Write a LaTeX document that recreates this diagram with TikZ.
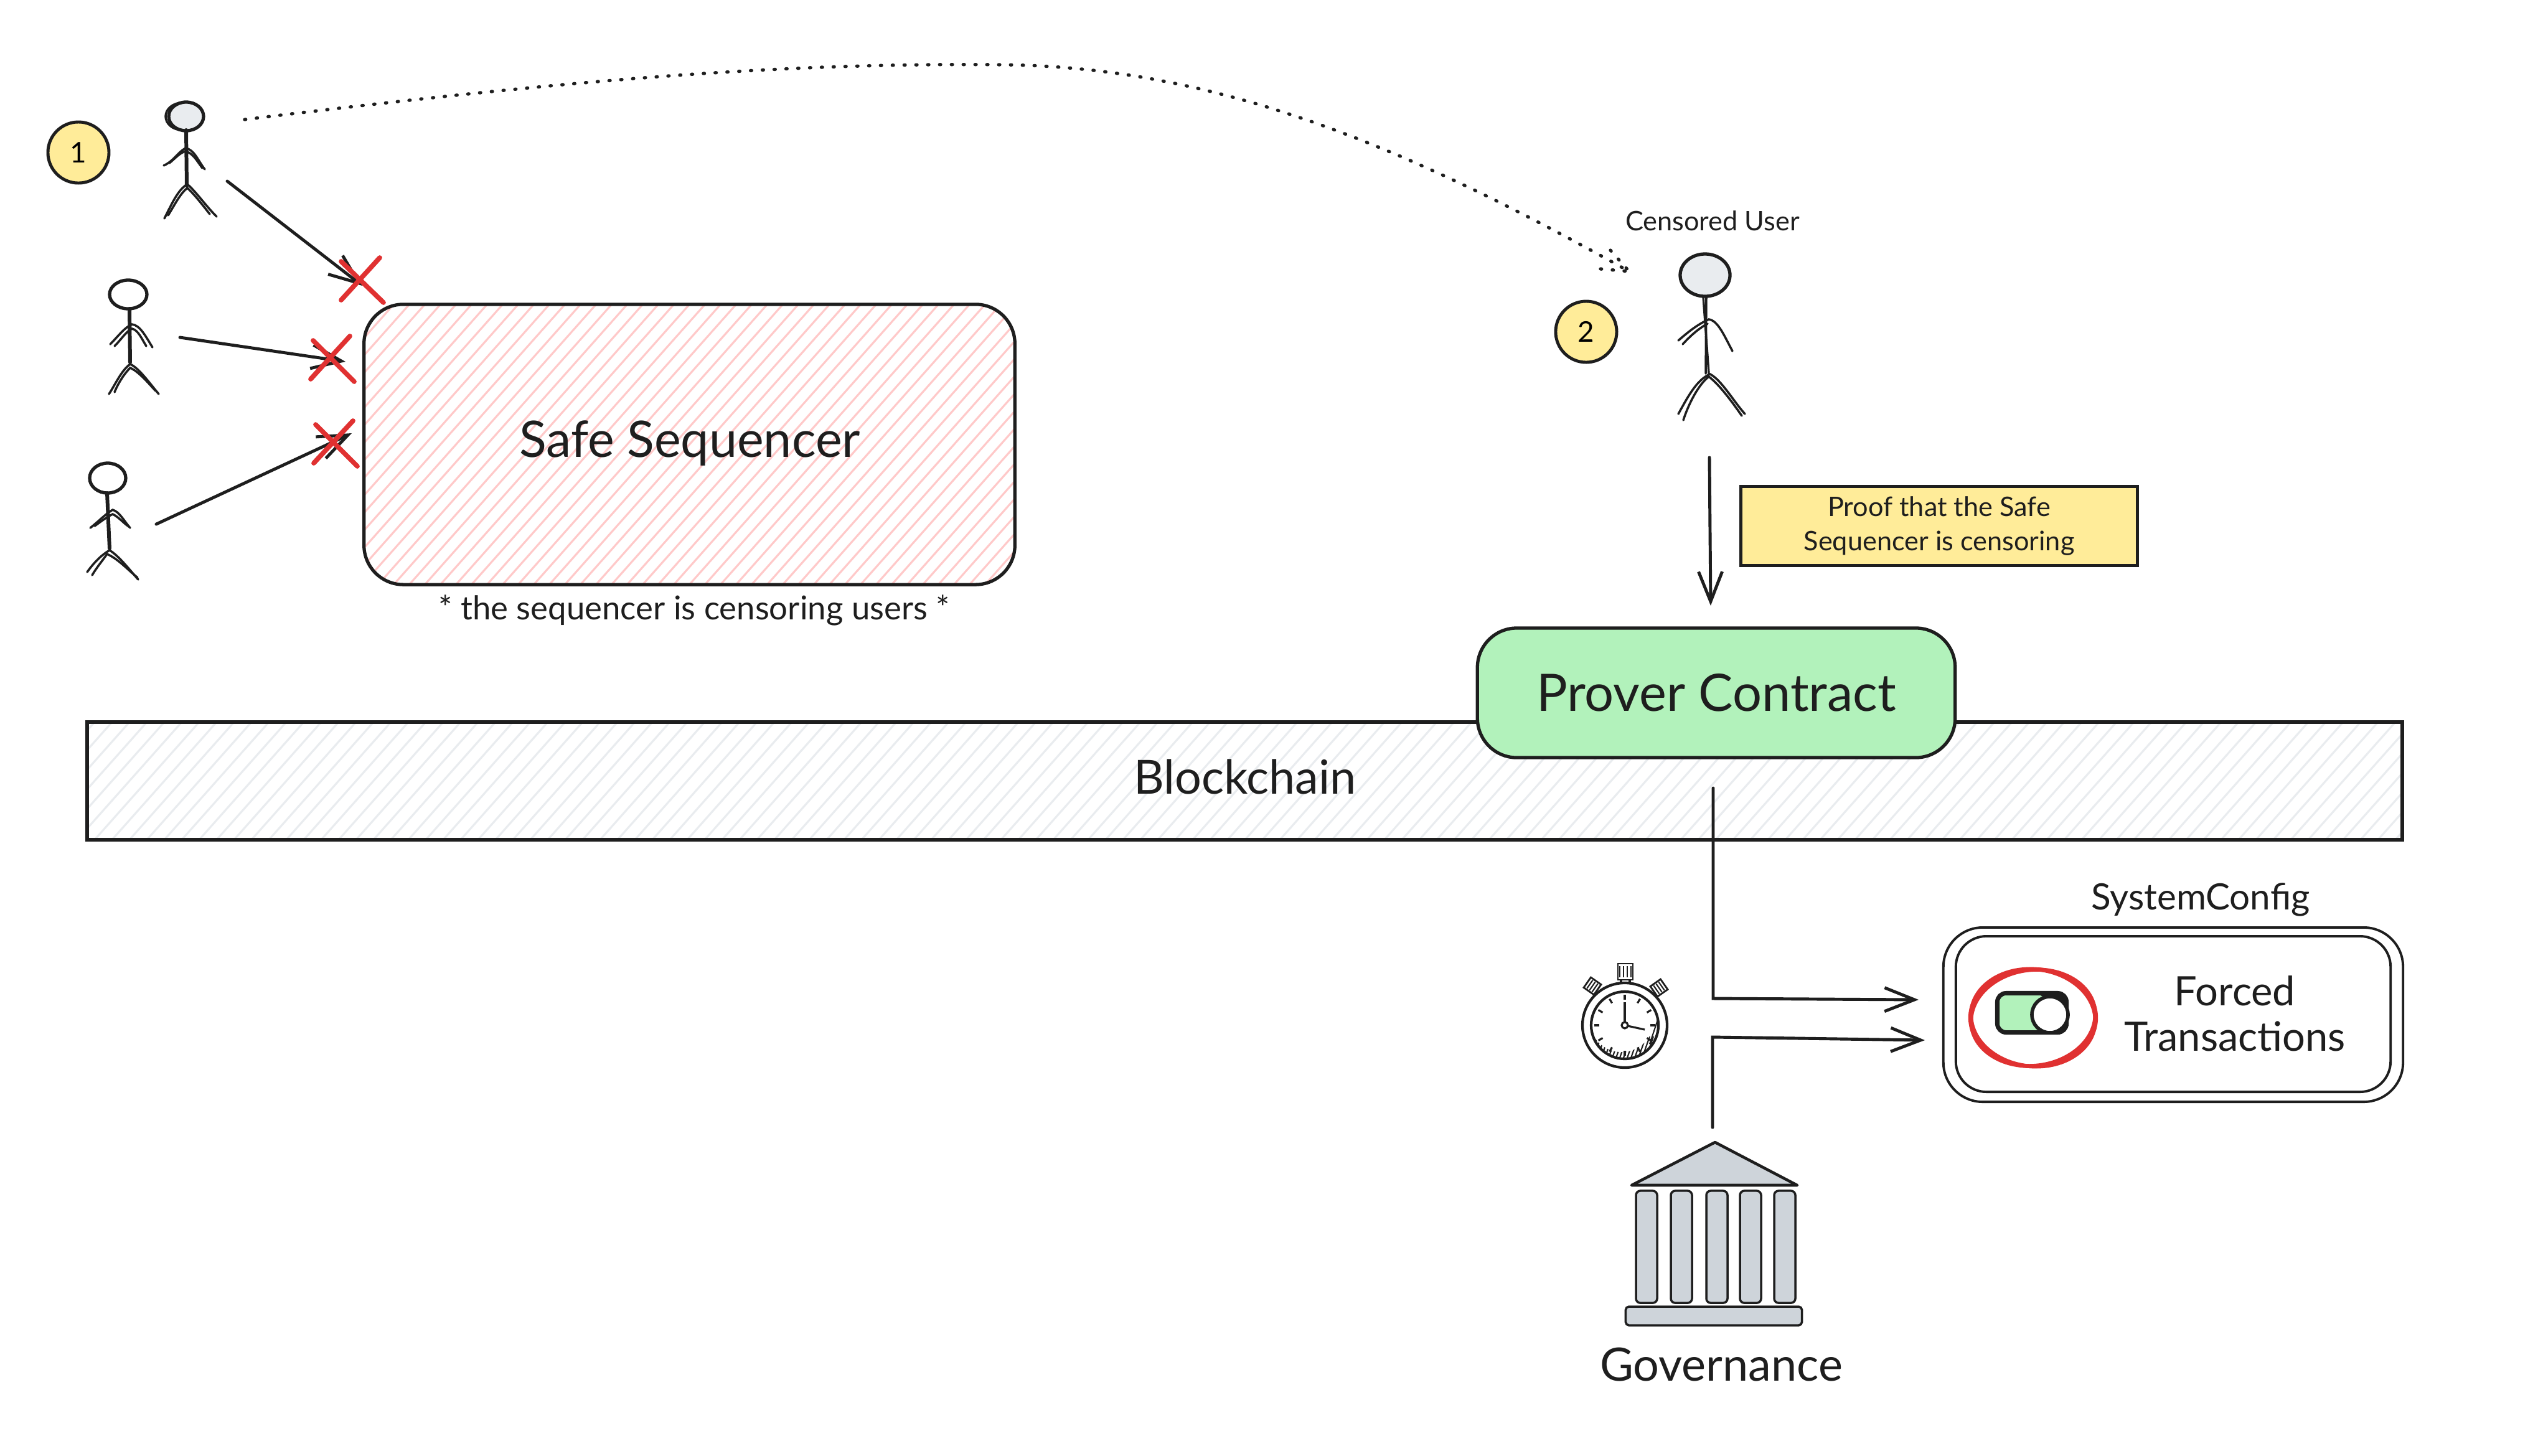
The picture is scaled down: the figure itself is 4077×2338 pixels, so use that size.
\documentclass[tikz,border=0pt]{standalone}
\usepackage{xcolor}
\usepackage{fontspec}
\setmainfont{Lato}
\definecolor{inkBlack}{RGB}{30,30,30}
\definecolor{noteYellow}{RGB}{255,236,153}
\definecolor{proverGreen}{RGB}{178,242,187}
\definecolor{seqPink}{RGB}{255,201,201}
\definecolor{chainGrey}{RGB}{233,236,239}
\definecolor{headGrey}{RGB}{233,236,239}
\definecolor{bankGrey}{RGB}{206,212,218}
\definecolor{crossRed}{RGB}{224,49,49}
\usetikzlibrary{arrows.meta,shapes.geometric,calc}
\tikzstyle{sketchbox}=[rectangle, draw=inkBlack, line width=1.5pt, rounded corners=18pt, inner sep=0pt]
\tikzstyle{userhead}=[ellipse, draw=inkBlack, line width=1.5pt, fill=white, minimum width=1.5cm, minimum height=1.25cm, inner sep=0pt]
\tikzstyle{stepbadge}=[circle, draw=inkBlack, line width=1.4pt, fill=noteYellow, minimum size=0.98cm, inner sep=0pt, font=\fontsize{13}{15}\selectfont]
\tikzstyle{limb}=[draw=inkBlack, line width=1pt, line cap=round]
\tikzstyle{trunk}=[draw=inkBlack, line width=1.7pt, line cap=round]
\tikzstyle{flowarrow}=[-{Straight Barb[length=4.8mm,width=3.8mm]}, draw=inkBlack, line width=1.4pt, line cap=round]
\tikzstyle{dotline}=[draw=inkBlack, line width=1.5pt, line cap=round, dash pattern=on 0.5pt off 4.9pt]
\tikzstyle{redmark}=[draw=crossRed, line width=2.2pt, line cap=round]
\tikzstyle{redring}=[draw=crossRed, line width=1.8pt]
\tikzstyle{label}=[inner sep=0pt, text=inkBlack]
\tikzstyle{column}=[rectangle, draw=inkBlack, line width=1pt, fill=bankGrey, rounded corners=2pt, minimum width=0.34cm, minimum height=1.8cm, inner sep=0pt]
\tikzstyle{knobbox}=[rectangle, draw=inkBlack, line width=0.8pt, fill=white, minimum width=0.2cm, minimum height=0.2cm, inner sep=0pt]

\begin{document}
\begin{tikzpicture}[x=0.01cm, y=-0.01cm]
    \useasboundingbox (0,0) rectangle (4077,2338);
    \fill[white] (0,0) rectangle (4077,2338);

    % Blockchain
    \node[sketchbox, rounded corners=0pt, minimum width=37.17cm, minimum height=1.89cm,
      path picture={\foreach \hx in {-2100,-2072,...,2000}
        \draw[chainGrey, line width=0.9pt] (\hx,95) -- ++(168,-189);}]
      (chain) at (1999.5,1254.5) {};
    \node[label, font=\fontsize{21.5}{26}\selectfont] (chainLabel) at (2000,1248) {Blockchain};

    % Safe Sequencer
    \node[sketchbox, minimum width=10.45cm, minimum height=4.5cm,
      path picture={\foreach \hx in {-950,-925,...,550}
        \draw[seqPink, line width=0.9pt] (\hx,225) -- ++(400,-450);}]
      (seq) at (1107.5,714) {};
    \node[label, font=\fontsize{23}{27}\selectfont] (seqLabel) at (1108,712) {Safe Sequencer};
    \node[label, font=\fontsize{15}{18}\selectfont] (seqNote) at (1115,980)
      {* the sequencer is censoring users *};

    % Prover Contract
    \node[sketchbox, fill=proverGreen, minimum width=7.67cm, minimum height=2.08cm,
      font=\fontsize{23.6}{28}\selectfont, text=inkBlack]
      (prover) at (2757,1113) {Prover Contract};

    % Badges
    \node[stepbadge] (one) at (126,245) {1};
    \node[stepbadge] (two) at (2548,533) {2};

    % Users
    \draw[inkBlack, line width=1pt] (293,187) ellipse (27 and 22);
    \node[userhead, fill=headGrey, minimum width=0.56cm, minimum height=0.46cm] (u1) at (299,187) {};
    \draw[trunk] (299,209) -- (300,298);
    \draw[limb] (263,266) .. controls (280,258) and (285,245) .. (298,238) .. controls (312,240) and (318,258) .. (329,272);
    \draw[limb] (272,262) .. controls (282,254) and (288,246) .. (298,243) .. controls (310,246) and (316,258) .. (325,270);
    \draw[limb] (264,351) .. controls (275,330) and (285,305) .. (301,296) .. controls (315,308) and (330,330) .. (348,348);
    \draw[limb] (270,346) .. controls (280,330) and (290,310) .. (301,302) .. controls (312,312) and (326,330) .. (337,344);

    \node[userhead, minimum width=0.6cm, minimum height=0.46cm] (u2) at (206,473) {};
    \draw[trunk] (208,496) -- (209,582);
    \draw[limb] (177,553) .. controls (190,540) and (200,526) .. (212,521) .. controls (225,522) and (235,542) .. (245,558);
    \draw[limb] (184,556) .. controls (195,545) and (203,532) .. (212,528) .. controls (222,530) and (228,545) .. (235,556);
    \draw[limb] (175,633) .. controls (185,618) and (195,595) .. (209,585) .. controls (222,590) and (240,615) .. (255,633);
    \draw[limb] (184,630) .. controls (190,615) and (200,600) .. (209,591) .. controls (222,596) and (238,615) .. (250,628);

    \node[userhead, minimum width=0.58cm, minimum height=0.48cm] (u3) at (173,768) {};
    \draw[trunk] (172,792) -- (176,881);
    \draw[limb] (145,848) .. controls (158,838) and (170,825) .. (181,819) .. controls (192,822) and (200,838) .. (209,848);
    \draw[limb] (152,845) .. controls (162,838) and (172,830) .. (181,826) .. controls (190,830) and (198,840) .. (207,846);
    \draw[limb] (140,919) .. controls (150,905) and (162,892) .. (176,884) .. controls (190,892) and (208,915) .. (222,931);
    \draw[limb] (148,924) .. controls (155,912) and (165,900) .. (172,890) .. controls (190,898) and (205,915) .. (221,928);

    % Censored user
    \node[label, font=\fontsize{12.3}{15}\selectfont] (censoredLabel) at (2751,355) {Censored User};
    \node[userhead, fill=headGrey, minimum width=0.8cm, minimum height=0.68cm] (u4) at (2739,442) {};
    \draw[limb] (2736,476) -- (2745,600);
    \draw[limb] (2741,476) -- (2740,600);
    \draw[limb] (2696,547) .. controls (2710,535) and (2725,522) .. (2745,513) .. controls (2760,515) and (2770,540) .. (2783,564);
    \draw[limb] (2703,553) .. controls (2715,540) and (2728,528) .. (2743,520);
    \draw[limb] (2696,665) .. controls (2710,640) and (2725,610) .. (2747,601) .. controls (2765,610) and (2785,645) .. (2803,665);
    \draw[limb] (2704,675) .. controls (2712,650) and (2728,618) .. (2745,605) .. controls (2762,618) and (2782,645) .. (2798,668);

    % Dotted path to censored user
    \coordinate (dotStart) at (393,192);
    \coordinate (dotPeak) at (1612,104);
    \coordinate (dotTip) at (2617,436);
    \coordinate (dotBarbA) at (2587,402);
    \coordinate (dotBarbB) at (2571,432);
    \draw[dotline] (dotStart) .. controls (900,130) and (1250,100) .. (dotPeak)
      .. controls (1950,108) and (2250,230) .. (dotTip);
    \draw[dotline] (dotBarbA) -- (dotTip);
    \draw[dotline] (dotBarbB) -- (dotTip);

    % Censored transactions
    \coordinate (u1Out) at (365,291);
    \coordinate (u1In) at (582,459);
    \coordinate (u2Out) at (289,542);
    \coordinate (u2In) at (555,581);
    \coordinate (u3Out) at (251,842);
    \coordinate (u3In) at (565,696);
    \draw[flowarrow] (u1Out) -- (u1In);
    \draw[flowarrow] (u2Out) -- (u2In);
    \draw[flowarrow] (u3Out) -- (u3In);

    % Crosses
    \draw[redmark] (548,482) -- (610,414);
    \draw[redmark] (548,420) -- (616,486);
    \draw[redmark] (499,609) -- (562,540);
    \draw[redmark] (503,547) -- (569,613);
    \draw[redmark] (504,744) -- (567,676);
    \draw[redmark] (507,682) -- (574,749);

    % Proof
    \coordinate (u4Out) at (2746,735);
    \coordinate (proverIn) at (2748,973);
    \draw[flowarrow] (u4Out) -- (proverIn);
    \node[rectangle, draw=inkBlack, line width=1.4pt, fill=noteYellow, minimum width=6.36cm, minimum height=1.27cm,
      inner sep=0pt, align=center, text=inkBlack, font=\fontsize{12.3}{15.5}\selectfont]
      (proof) at (3115,845) {Proof that the Safe\\Sequencer is censoring};

    % Forced transactions path
    \coordinate (proverOut) at (2752,1266);
    \coordinate (timerBend) at (2752,1604);
    \coordinate (timerIn) at (3082,1606);
    \coordinate (bankOut) at (2751,1811);
    \coordinate (bankBend) at (2751,1666);
    \coordinate (bankIn) at (3092,1671);
    \draw[flowarrow] (proverOut) -- (timerBend) -- (timerIn);
    \draw[flowarrow] (bankOut) -- (bankBend) -- (bankIn);

    % Stopwatch
    \begin{scope}[shift={(2610,1647)}]
      \node[knobbox, minimum width=0.24cm, minimum height=0.26cm] (knobTop) at (1,-86) {};
      \node[knobbox, rotate=-35] (knobL) at (-52,-63) {};
      \node[knobbox, rotate=35] (knobR) at (55,-60) {};
      \foreach \sx in {-6,0,6,12}
        \draw[inkBlack, line width=0.6pt] (\sx-2,-95) -- (\sx-2,-77);
      \foreach \sx in {-5,0,5} {
        \draw[inkBlack, line width=0.6pt, rotate around={-35:(-52,-63)}] (-52+\sx,-71) -- (-52+\sx,-55);
        \draw[inkBlack, line width=0.6pt, rotate around={35:(55,-60)}] (55+\sx,-68) -- (55+\sx,-52);
      }
      \draw[inkBlack, line width=1pt] (-6,-73) -- (-6,-66) (8,-73) -- (8,-66);
      \draw[inkBlack, line width=1.2pt, fill=white] (0,0) circle (68);
      \begin{scope}
        \clip (0,0) circle (54);
        \foreach \hx in {-64,-58,...,50}
          \draw[inkBlack, line width=0.6pt] (\hx,58) -- ++(14,-40);
        \draw[inkBlack, line width=0.6pt] (40,30) -- (54,-12) (46,30) -- (60,-12);
        \fill[white] (-5,-9) circle (52);
      \end{scope}
      \foreach \ang in {0,30,...,330}
        \draw[inkBlack, line width=0.9pt] (\ang:41) -- (\ang:49);
      \draw[inkBlack, line width=1.2pt] (0,0) circle (54);
      \draw[inkBlack, line width=0.9pt] (0,0) -- (0,-37);
      \draw[inkBlack, line width=0.9pt] (0,0) -- (32,7);
      \draw[inkBlack, line width=0.9pt, fill=white] (0,0) circle (5);
    \end{scope}

    % SystemConfig
    \node[label, font=\fontsize{16.6}{20}\selectfont] (sysLabel) at (3535,1445) {SystemConfig};
    \node[sketchbox, line width=1.1pt, minimum width=7.38cm, minimum height=2.8cm] (sysOuter) at (3491,1630) {};
    \node[sketchbox, line width=1.1pt, rounded corners=14pt, minimum width=6.98cm, minimum height=2.5cm] (sysInner) at (3491,1629) {};
    \node[label, font=\fontsize{18.5}{20.7}\selectfont, align=center] (forced) at (3590,1628) {Forced\\Transactions};

    % Toggle
    \node[rectangle, draw=inkBlack, line width=2pt, fill=proverGreen, rounded corners=4pt, minimum width=1.11cm, minimum height=0.63cm, inner sep=0pt] (toggle) at (3264,1627) {};
    \fill[inkBlack] (3275,1597) -- (3316,1597) -- (3320,1601) -- (3320,1625) -- cycle;
    \node[circle, draw=inkBlack, line width=1.6pt, fill=white, minimum size=0.58cm, inner sep=0pt] (knob) at (3293,1630) {};
    \draw[redring] (3266,1635) ellipse (101 and 78);
    \draw[redring, rotate around={7:(3266,1635)}] (3266,1635) ellipse (100 and 77);
    \draw[redring, rotate around={-6:(3266,1635)}] (3266,1635) ellipse (100 and 78);

    % Governance
    \path[draw=inkBlack, line width=1.3pt, fill=bankGrey, line join=round] (2755,1835) -- (2887,1904) -- (2621,1904) -- cycle;
    \foreach \cx/\cname in {2645/colA,2701/colB,2758/colC,2812/colD,2867/colE}
      \node[column] (\cname) at (\cx,2003) {};
    \node[rectangle, draw=inkBlack, line width=1pt, fill=bankGrey, rounded corners=1.5pt, minimum width=2.83cm, minimum height=0.3cm, inner sep=0pt] (bankBase) at (2753,2114) {};
    \node[label, font=\fontsize{21}{25}\selectfont] (govLabel) at (2765,2192) {Governance};
\end{tikzpicture}
\end{document}
